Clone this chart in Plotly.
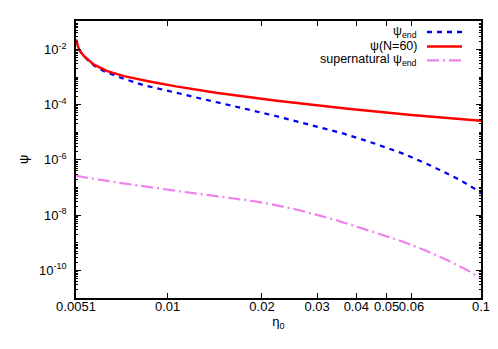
import plotly.graph_objects as go

# ---- data ----
eta_end = [0.0051, 0.005214, 0.005542, 0.005821, 0.006263, 0.006745, 0.007258,
           0.007811, 0.008326, 0.01063, 0.01392, 0.02196, 0.03626, 0.04522,
           0.05636, 0.06993, 0.0855, 0.0973, 0.1]
psi_end = [2.26e-2, 9.5e-3, 4.28e-3, 2.60e-3, 1.63e-3, 1.17e-3, 8.6e-4,
           6.55e-4, 5.2e-4, 2.71e-4, 1.32e-4, 3.98e-5, 9.1e-6, 4.11e-6,
           1.69e-6, 5.87e-7, 1.90e-7, 8.0e-8, 6.6e-8]

eta_n60 = [0.0051, 0.005214, 0.005408, 0.005821, 0.006419, 0.007258, 0.008831,
           0.01063, 0.01427, 0.02196, 0.03762, 0.06, 0.1]
psi_n60 = [2.26e-2, 9.8e-3, 5.7e-3, 2.83e-3, 1.63e-3, 1.08e-3, 6.8e-4,
           4.6e-4, 2.69e-4, 1.41e-4, 7.1e-5, 4.25e-5, 2.62e-5]

eta_sn = [0.0051, 0.00701, 0.01063, 0.01849, 0.02168, 0.02573, 0.03018, 0.0354,
          0.0415, 0.04927, 0.05706, 0.06688, 0.07846, 0.09086, 0.1]
psi_sn = [2.64e-7, 1.48e-7, 7.6e-8, 3.31e-8, 2.41e-8, 1.60e-8, 1.00e-8, 6.03e-9,
          3.40e-9, 1.83e-9, 1.04e-9, 5.15e-10, 2.26e-10, 9.84e-11, 5.0e-11]

x_ticks = [0.0051, 0.01, 0.02, 0.03, 0.04, 0.05, 0.06, 0.1]
x_ticktext = ["0.0051", "0.01", "0.02", "0.03", "0.04", "0.05", "0.06", "0.1"]
y_ticks = [1e-2, 1e-4, 1e-6, 1e-8, 1e-10]
y_ticktext = ["10<sup>-2</sup>", "10<sup>-4</sup>", "10<sup>-6</sup>",
              "10<sup>-8</sup>", "10<sup>-10</sup>"]

legend_names = ["ψ<sub>end</sub>", "ψ(N=60)", "supernatural ψ<sub>end</sub>"]

BLUE = "#0000ee"
RED = "#ff0000"
PINK = "#ee82ee"
FONT = "Liberation Sans, Arial, sans-serif"
DASH_BLUE = "5px,5px"
DASH_PINK = "12px,4px,2px,4px"

fig = go.Figure()
fig.add_trace(go.Scatter(x=eta_end, y=psi_end, mode="lines",
                         line=dict(color=BLUE, width=2.2, dash=DASH_BLUE),
                         showlegend=False))
fig.add_trace(go.Scatter(x=eta_n60, y=psi_n60, mode="lines",
                         line=dict(color=RED, width=2.5), showlegend=False))
fig.add_trace(go.Scatter(x=eta_sn, y=psi_sn, mode="lines",
                         line=dict(color=PINK, width=2.2, dash=DASH_PINK),
                         showlegend=False))

# minor ticks on log y axis
y_minor = [m * 10.0 ** e for e in range(-11, 0) for m in range(1, 10)]
y_minor = [v for v in y_minor if 1e-11 <= v <= 0.1]

L, R, T, B = 68, 25, 13, 59
W, H = 498.0, 349.0
PW, PH = W - L - R, H - T - B

fig.update_layout(
    width=498, height=349,
    margin=dict(l=L, r=R, t=T, b=B),
    paper_bgcolor="white", plot_bgcolor="white",
    font=dict(family=FONT, size=13, color="black"),
    xaxis=dict(type="log", range=[-2.2924, -1.0], tickvals=x_ticks, ticktext=x_ticktext,
               tickangle=0, ticklabelstandoff=-4,
               ticks="inside", ticklen=5, tickcolor="black", showline=True,
               linecolor="black", linewidth=1.5, mirror="ticks", showgrid=False,
               zeroline=False, tickfont=dict(size=13),
               title=dict(text="η<sub>0</sub>", font=dict(size=13), standoff=2)),
    yaxis=dict(type="log", range=[-11, -0.97], tickvals=y_ticks, ticktext=y_ticktext,
               ticks="inside", ticklen=5, tickcolor="black", showline=True,
               linecolor="black", linewidth=1.5, mirror="allticks", showgrid=False,
               zeroline=False, tickfont=dict(size=13), ticklabelstandoff=5,
               minor=dict(tickvals=y_minor, ticks="inside", ticklen=2.5,
                          tickcolor="black")),
)

# y-axis title placed like gnuplot's
fig.add_annotation(x=(15 - L) / PW, y=1 - (152 - T) / PH, xref="paper", yref="paper",
                   text="ψ", showarrow=False, textangle=-90,
                   xanchor="center", yanchor="middle", font=dict(size=13))

# gnuplot-style legend (text right-aligned, sample on the right)
leg_y = [24, 38.5, 52.3]
colors = [BLUE, RED, PINK]
dashes = [DASH_BLUE, "solid", DASH_PINK]
for name, yy, c, d in zip(legend_names, leg_y, colors, dashes):
    yp = 1 - (yy - T) / PH
    fig.add_annotation(x=(410 - L) / PW, y=yp, xref="paper", yref="paper",
                       text=name, showarrow=False, xanchor="right", yanchor="middle",
                       borderpad=0, font=dict(size=12.5, family=FONT))
    fig.add_shape(type="line", xref="paper", yref="paper",
                  x0=(419 - L) / PW, x1=(454 - L) / PW, y0=yp, y1=yp,
                  line=dict(color=c, width=2.3, dash=d))

fig.write_html("out.html")
